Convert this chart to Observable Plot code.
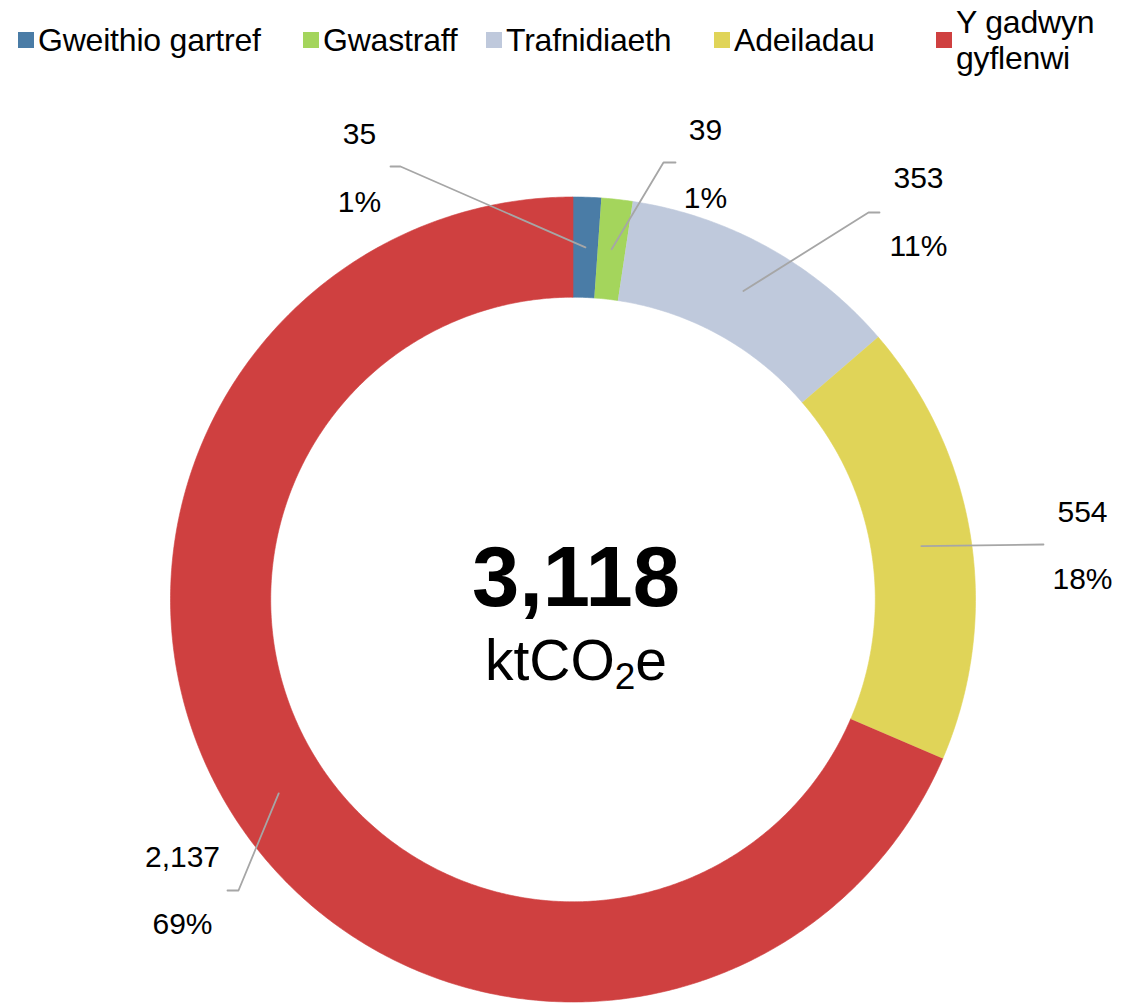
<!DOCTYPE html>
<html>
<head>
<meta charset="utf-8">
<script src="https://cdn.jsdelivr.net/npm/d3@7"></script>
<script src="https://cdn.jsdelivr.net/npm/@observablehq/plot@0.6"></script>
<style>
  html, body { margin: 0; padding: 0; background: #fff; }
  body { width: 1127px; height: 1003px; overflow: hidden; font-family: "Liberation Sans", Arial, sans-serif; }
  #legend { position: relative; height: 95px; width: 1127px; }
  .item { position: absolute; top: 0; height: 80px; display: flex; align-items: center; }
  .sw { width: 16px; height: 16px; margin-right: 4px; flex: none; }
  .lab { font-size: 32px; line-height: 36px; color: #000; letter-spacing: -0.2px; }
  #chart svg { display: block; }
</style>
</head>
<body>
<div id="legend"></div>
<div id="chart"></div>
<script>
// ---- data ----
const categories = ["Gweithio gartref", "Gwastraff", "Trafnidiaeth", "Adeiladau", "Y gadwyn gyflenwi"];
const legendLines = [["Gweithio gartref"], ["Gwastraff"], ["Trafnidiaeth"], ["Adeiladau"], ["Y gadwyn", "gyflenwi"]];
const values = [35, 39, 353, 554, 2137];
const valueLabels = ["35", "39", "353", "554", "2,137"];
const percentLabels = ["1%", "1%", "11%", "18%", "69%"];
const colors = ["#4a7ca6", "#a4d55c", "#bfc9dc", "#e0d458", "#cf4040"];
const totalLabel = "3,118";
const unitLabel = "ktCO2e";

// ---- layout (not data) ----
const legendLeft = [18, 303, 486, 714, 936];
// callout layout in ring units (center 0,0, outer radius 1)
const calloutElbow = [[-0.4286, 1.0758], [0.2248, 1.0857], [0.7342, 0.9615], [1.1689, 0.1366], [-0.8311, -0.7230]];
const calloutEnd   = [[-0.4534, 1.0758], [0.2547, 1.0857], [0.7615, 0.9615], [1.1689, 0.1366], [-0.8584, -0.7230]];
const calloutText  = [[-0.5304, 1.0683], [0.3292, 1.0783], [0.8584, 0.9590], [1.2658, 0.1304], [-0.9702, -0.7267]];

const R_OUT = 1, R_IN = 0.751, R_MID = (R_OUT + R_IN) / 2;

// legend
const leg = document.getElementById("legend");
categories.forEach((c, i) => {
  const it = document.createElement("div");
  it.className = "item";
  it.style.left = legendLeft[i] + "px";
  const sw = document.createElement("div");
  sw.className = "sw";
  sw.style.background = colors[i];
  const lab = document.createElement("div");
  lab.className = "lab";
  lab.innerHTML = legendLines[i].join("<br>");
  it.appendChild(sw); it.appendChild(lab);
  leg.appendChild(it);
});

// geometry from data
const arcs = d3.pie().sort(null).value(d => d)(values);
const slicePts = [];
arcs.forEach((p, i) => {
  const n = Math.max(2, Math.ceil((p.endAngle - p.startAngle) / (Math.PI / 360)));
  for (let k = 0; k <= n; k++) {
    const a = p.startAngle + (p.endAngle - p.startAngle) * k / n;
    slicePts.push({cat: categories[i], x: R_OUT * Math.sin(a), y: R_OUT * Math.cos(a)});
  }
  for (let k = n; k >= 0; k--) {
    const a = p.startAngle + (p.endAngle - p.startAngle) * k / n;
    slicePts.push({cat: categories[i], x: R_IN * Math.sin(a), y: R_IN * Math.cos(a)});
  }
});

const leaderPts = [];
arcs.forEach((p, i) => {
  const a = (p.startAngle + p.endAngle) / 2;
  leaderPts.push({id: i, x: R_MID * Math.sin(a), y: R_MID * Math.cos(a)});
  leaderPts.push({id: i, x: calloutElbow[i][0], y: calloutElbow[i][1]});
  leaderPts.push({id: i, x: calloutEnd[i][0], y: calloutEnd[i][1]});
});

const labels = categories.map((c, i) => ({
  x: calloutText[i][0], y: calloutText[i][1],
  text: valueLabels[i] + "\n" + percentLabels[i]
}));

const W = 1127, H = 908;
const cxPx = 572.5, cyPage = 599, Rpx = 402.5, svgTop = 95;

const chart = Plot.plot({
  width: W, height: H,
  margin: 0,
  x: {axis: null, domain: [-cxPx / Rpx, (W - cxPx) / Rpx]},
  y: {axis: null, domain: [(cyPage - (svgTop + H)) / Rpx, (cyPage - svgTop) / Rpx]},
  color: {domain: categories, range: colors},
  style: {fontFamily: "Liberation Sans, Arial, sans-serif", background: "#fff"},
  marks: [
    Plot.line(slicePts, {x: "x", y: "y", z: "cat", fill: "cat", stroke: "cat", strokeWidth: 0.6}),
    Plot.line(leaderPts, {x: "x", y: "y", z: "id", stroke: "#a6a6a6", strokeWidth: 1.8}),
    Plot.text(labels, {x: "x", y: "y", text: "text", fontSize: 30, lineHeight: 2.25, lineAnchor: "middle", textAnchor: "middle", dy: -13, fill: "#000"}),
    Plot.text([totalLabel], {x: () => 0, y: () => 0.051, text: d => d, fontSize: 85, fontWeight: "bold", textAnchor: "middle", dx: 3, fill: "#000"}),
    Plot.text([unitLabel], {x: () => 0, y: () => -0.16, text: d => d, fontSize: 57, textAnchor: "middle", dx: 3, dy: -2, fill: "#000"})
  ]
});
document.getElementById("chart").appendChild(chart);

// subscript for the unit label
chart.querySelectorAll("text").forEach(t => {
  if (t.textContent === unitLabel) {
    const s = unitLabel;
    while (t.firstChild) t.removeChild(t.firstChild);
    const ns = "http://www.w3.org/2000/svg";
    const a = document.createElementNS(ns, "tspan"); a.textContent = s.slice(0, 4);
    const b = document.createElementNS(ns, "tspan"); b.textContent = s.slice(4, 5);
    b.setAttribute("font-size", "37"); b.setAttribute("dy", "9");
    const c = document.createElementNS(ns, "tspan"); c.textContent = s.slice(5);
    c.setAttribute("dy", "-9");
    t.appendChild(a); t.appendChild(b); t.appendChild(c);
  }
});
</script>
</body>
</html>
